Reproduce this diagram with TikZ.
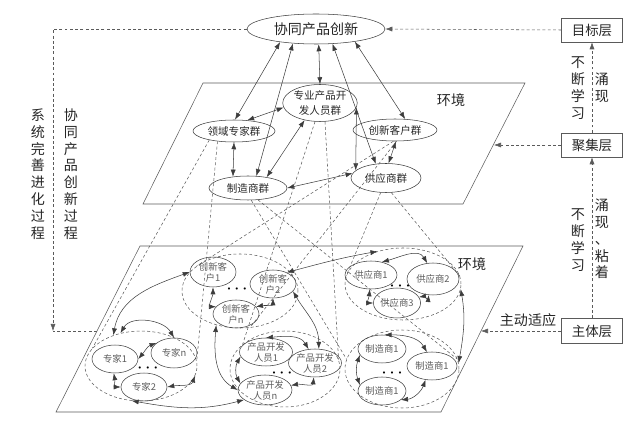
\documentclass[tikz,border=0pt]{standalone}
\usepackage{fontspec}
\setmainfont{Noto Sans CJK SC}
\usetikzlibrary{arrows.meta,shapes.geometric}
\definecolor{LineGray}{HTML}{3C3C3C}
\definecolor{DashGray}{HTML}{5A5A5A}
\definecolor{InkDark}{HTML}{262626}
\definecolor{UnitGray}{HTML}{5C5C5C}

\tikzset{
  esz/.style 2 args={minimum width=#1*0.03cm,minimum height=#2*0.03cm},
  bigell/.style={ellipse,draw=LineGray,inner sep=0pt,text=InkDark,font=\fontsize{12}{14}\selectfont},
  grpell/.style={ellipse,draw=LineGray,inner sep=0pt,align=center,text=InkDark,font=\fontsize{9}{12.5}\selectfont},
  unitell/.style={ellipse,draw=LineGray,inner sep=0pt,align=center,text=UnitGray,font=\fontsize{8}{9.4}\selectfont},
  clusterell/.style={ellipse,draw=DashGray,dash pattern=on 2.5pt off 2pt,inner sep=0pt},
  layerbox/.style={draw=DashGray,inner sep=0pt,minimum width=61*0.03cm,minimum height=24*0.03cm,text=InkDark,font=\fontsize{11.5}{13}\selectfont},
  vlabel/.style={align=center,inner sep=0pt,text=InkDark,font=\fontsize{12}{14.4}\selectfont},
  flat/.style={inner sep=0pt,text=InkDark,font=\fontsize{12}{14}\selectfont},
  dots/.style={inner sep=0pt,font=\fontsize{12}{14}\selectfont\boldmath},
  link/.style={<->,draw=LineGray},
  proj/.style={draw=DashGray,dash pattern=on 2.5pt off 2pt},
  feed/.style={->,draw=DashGray,dash pattern=on 2.5pt off 2pt},
  plane/.style={draw=DashGray}
}

\begin{document}
\begin{tikzpicture}[x=0.03cm,y=-0.03cm,line width=0.45pt,>={Latex[length=2.1mm,width=1.5mm]}]
  \useasboundingbox (0,0) rectangle (635,428);
  % two planes
  \draw[plane] (143,204) -- (463,204) -- (525,83) -- (203,83) -- cycle;
  \draw[plane] (56,412) -- (441,412) -- (523,246) -- (140,246) -- cycle;
  \node[flat] (envUp) at (451,100) {环境};
  \node[flat] (envLow) at (472,264) {环境};

  % goal and layers
  \node[bigell,esz={138}{30}] (goal) at (316,29) {协同产品创新};
  \node[layerbox] (lyGoal) at (592,30) {目标层};
  \node[layerbox] (lyAgg) at (592,145) {聚集层};
  \node[layerbox,minimum height=25*0.03cm] (lySubj) at (592,331) {主体层};

  % groups on the upper plane
  \node[grpell,esz={82}{22}] (expG) at (234,131) {领域专家群};
  \node[grpell,esz={74}{37}] (devG) at (320,103) {专业产品开\\发人员群};
  \node[grpell,esz={84}{22}] (cusG) at (395,130) {创新客户群};
  \node[grpell,esz={78}{24}] (manG) at (248,188) {制造商群};
  \node[grpell,esz={70}{29}] (supG) at (386,178) {供应商群};

  % clusters on the lower plane
  \node[clusterell,esz={112}{70}] (expC) at (141,366) {};
  \node[clusterell,esz={116}{74}] (cusC) at (240,291) {};
  \node[clusterell,esz={110}{76}] (devC) at (285,369) {};
  \node[clusterell,esz={116}{72}] (supC) at (403,284) {};
  \node[clusterell,esz={114}{78}] (manC) at (402,369) {};

  \node[unitell,esz={46}{28}] (zj1) at (115,359) {专家1};
  \node[unitell,esz={46}{30}] (zjn) at (174,353) {专家n};
  \node[unitell,esz={46}{28}] (zj2) at (144,387) {专家2};
  \node[dots] (dotZj) at (148,368) {$\cdot$\hspace{3pt}$\cdot$\hspace{3pt}$\cdot$};

  \node[unitell,esz={46}{30}] (cx1) at (213,272) {创新客\\户1};
  \node[unitell,esz={46}{28}] (cx2) at (273,284) {创新客\\户2};
  \node[unitell,esz={46}{28}] (cxn) at (236,314) {创新客\\户n};
  \node[dots] (dotCx) at (237,289) {$\cdot$\hspace{3pt}$\cdot$\hspace{3pt}$\cdot$};

  \node[unitell,esz={52}{28}] (cp1) at (266,352) {产品开发\\人员1};
  \node[unitell,esz={50}{28}] (cp2) at (315,363) {产品开发\\人员2};
  \node[unitell,esz={54}{30}] (cpn) at (265,390) {产品开发\\人员n};
  \node[dots] (dotCp) at (282,373) {$\cdot$\hspace{3pt}$\cdot$\hspace{3pt}$\cdot$};

  \node[unitell,esz={52}{28}] (gy1) at (371,275) {供应商1};
  \node[unitell,esz={52}{32}] (gy2) at (433,279) {供应商2};
  \node[unitell,esz={46}{30}] (gy3) at (397,303) {供应商3};
  \node[dots] (dotGy) at (400,286) {$\cdot$\hspace{3pt}$\cdot$\hspace{3pt}$\cdot$};

  \node[unitell,esz={48}{28}] (zz1) at (382,349) {制造商1};
  \node[unitell,esz={50}{28}] (zz2) at (432,366) {制造商1};
  \node[unitell,esz={48}{28}] (zz3) at (382,391) {制造商1};
  \node[dots] (dotZz) at (392,373) {$\cdot$\hspace{3pt}$\cdot$\hspace{3pt}$\cdot$};

  % links on the upper plane
  \draw[link] (goal.200) -- (expG.85);
  \draw[link] (goal.212) -- (manG.55);
  \draw[link] (goal.280) -- (devG.north);
  \draw[link] (goal.318) -- (supG.126);
  \draw[link] (goal.342) -- (cusG.47);
  \draw[link] (expG.39) -- (devG.187);
  \draw[link] (expG.south) -- (manG.143);
  \draw[link] (devG.228) -- (manG.30);
  \draw[link] (devG.353) -- (supG.166);
  \draw[link] (manG.east) -- (supG.172);
  \draw[link] (cusG.275) -- (supG.80);

  % projections between the planes
  \draw[proj] (expG.200) -- (expC.160);
  \draw[proj] (expG.212) -- (expC.5);
  \draw[proj] (manG.285) -- (manC.170);
  \draw[proj] (manG.310) -- (manC.10);
  \draw[proj] (devG.255) -- (devC.150);
  \draw[proj] (devG.285) -- (devC.10);
  \draw[proj] (cusG.262) -- (cusC.150);
  \draw[proj] (cusG.278) -- (cusC.285);
  \draw[proj] (supG.250) -- (supC.172);
  \draw[proj] (supG.290) -- (supC.8);

  % links on the lower plane
  \draw[link] (expC.122) to[out=60,in=120] (zjn.north);
  \draw[link] (expC.132) to[out=80,in=200] (cx1.west);
  \draw[link] (zj1.east) to[out=50,in=200] (zjn.150);
  \draw[link] (zj2.east) to[out=10,in=250] (expC.350);
  \draw[link] (zj1.265) to[out=-80,in=180] (zj2.west);
  \draw[link] (expC.255) to[out=-10,in=195] (cpn.205);

  \draw[link] (cx1.south) to[out=-90,in=180] (cxn.160);
  \draw[link] (cx2.south) to[out=-90,in=10] (cxn.20);
  \draw[link] (cusC.235) to[out=-95,in=150] (cpn.west);
  \draw[link] (cx2.340) to[out=-60,in=90] (cp2.75);
  \draw[link] (cx2.40) to[out=15,in=190] (supC.128);
  \draw[link] (supC.355) to[out=-80,in=80] (manC.6);

  \draw[link] (gy1.50) to[out=15,in=120] (gy2.110);
  \draw[link] (gy1.265) to[out=-95,in=180] (gy3.west);
  \draw[link] (gy2.255) to[out=-95,in=10] (gy3.15);

  \draw[link] (zz1.80) to[out=0,in=120] (zz2.110);
  \draw[link] (zz1.195) to[out=250,in=110] (zz3.165);
  \draw[link] (zz3.335) to[out=5,in=250] (zz2.245);

  \draw[link] (cp1.north) to[out=5,in=120] (cp2.115);
  \draw[link] (cp1.190) to[out=240,in=120] (cpn.165);
  \draw[link] (cp2.265) to[out=-95,in=10] (cpn.10);

  % layers and feedback
  \coordinate (aggIn) at (494,145);
  \coordinate (subjIn) at (481,331);
  \coordinate (loopTurn) at (53,331);
  \coordinate (loopEnd) at (97,331);
  \draw[feed] (lyGoal.west) -- (goal.east);
  \draw[feed] (lyAgg.west) -- (aggIn);
  \draw[feed] (lySubj.west) -- (subjIn);
  \draw[feed] (lyAgg.north) -- (lyGoal.south);
  \draw[feed] (lySubj.north) -- (lyAgg.south);
  \draw[feed] (goal.west) -| (loopTurn);
  \draw[proj] (loopEnd) -- (loopTurn);

  \node[vlabel] (sysEvo) at (38,174) {系\\统\\完\\善\\进\\化\\过\\程};
  \node[vlabel] (coInno) at (71,174) {协\\同\\产\\品\\创\\新\\过\\程};
  \node[vlabel] (learnUp) at (578,88) {不\\断\\学\\习};
  \node[vlabel] (emergeUp) at (602,88) {涌\\现};
  \node[vlabel] (learnLow) at (578,240) {不\\断\\学\\习};
  \node[vlabel] (emergeLow) at (602,239) {涌\\现\\、\\粘\\着};
  \node[flat] (adapt) at (528,320) {主动适应};
\end{tikzpicture}
\end{document}
